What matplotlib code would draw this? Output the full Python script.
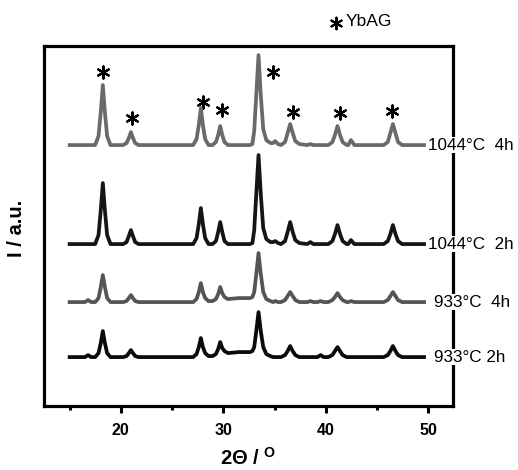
import matplotlib
matplotlib.use('Agg')
import matplotlib.pyplot as plt
import numpy as np

plt.rcParams['font.family'] = ['Liberation Sans', 'DejaVu Sans']
plt.rcParams['mathtext.fontset'] = 'custom'
plt.rcParams['mathtext.bf'] = 'Liberation Sans:bold'
plt.rcParams['mathtext.rm'] = 'Liberation Sans'

# 2theta points shared by all patterns
two_theta = [15.0, 16.5, 16.8, 17.1,
             17.49, 17.82, 18.04, 18.24, 18.44, 18.66, 18.99,
             20.23, 20.56, 20.78, 20.98, 21.18, 21.40, 21.73,
             27.06, 27.39, 27.61, 27.81, 28.01, 28.23, 28.56,
             28.95, 29.28, 29.50, 29.70, 29.90, 30.12, 30.45,
             31.5, 32.6, 32.84, 33.02, 33.22, 33.44, 33.66, 33.90, 34.2, 34.6,
             34.85, 35.07, 35.35,
             35.63, 36.03, 36.28, 36.53, 36.78, 37.03, 37.43,
             38.2, 38.5, 38.8, 39.2, 39.5, 39.8,
             40.25, 40.65, 40.90, 41.15, 41.40, 41.65, 42.05,
             42.2, 42.46, 42.8,
             45.66, 46.06, 46.31, 46.56, 46.81, 47.06, 47.46,
             49.6]

# intensities above each baseline (a.u.)
i_1044_4h = [0, 0, 0, 0,
             0, 9, 33, 60, 33, 9, 0,
             0, 2, 7, 13, 7, 2, 0,
             0, 6, 20, 37, 20, 6, 0,
             0, 3, 10, 19, 10, 3, 0,
             0, 0, 1, 14, 50, 90, 50, 16, 5, 2,
             2, 4, 1,
             0, 3, 12, 21, 12, 4, 1,
             0, 1, 0, 0, 0, 0,
             0, 3, 10, 19, 10, 3, 0,
             0, 5, 0,
             0, 3, 12, 21, 12, 3, 0,
             0]
i_1044_2h = [0, 0, 0, 0,
             0, 9, 34, 61, 34, 9, 0,
             0, 2, 8, 14, 8, 2, 0,
             0, 6, 20, 36, 20, 6, 0,
             0, 3, 12, 22, 12, 3, 0,
             0, 0, 1, 14, 50, 89, 50, 16, 5, 2,
             2, 3, 1,
             0, 3, 12, 22, 12, 4, 1,
             0, 2, 0, 0, 0, 0,
             0, 3, 10, 19, 10, 3, 0,
             0, 4, 0,
             0, 3, 10, 19, 10, 3, 0,
             0]
i_933_4h = [0, 0, 2, 0,
            0, 4, 15, 27, 15, 4, 0,
            0, 1, 4, 7, 4, 1, 0,
            0, 3, 10, 19, 10, 4, 1,
            1, 3, 8, 15, 9, 5, 3,
            4, 4, 5, 10, 28, 49, 28, 10, 3, 1,
            0, 1, 0,
            0, 2, 6, 10, 6, 2, 0,
            0, 1, 0, 0, 1, 0,
            0, 2, 5, 9, 5, 2, 0,
            0, 1, 0,
            0, 2, 6, 10, 6, 2, 0,
            0]
i_933_2h = [0, 0, 2, 0,
            0, 4, 14, 26, 14, 4, 0,
            0, 1, 4, 7, 4, 1, 0,
            0, 3, 10, 19, 10, 4, 1,
            1, 3, 8, 15, 9, 6, 4,
            5, 5, 6, 10, 26, 45, 26, 10, 3, 1,
            0, 0, 0,
            0, 2, 6, 11, 6, 2, 0,
            0, 0, 0, 0, 2, 0,
            0, 2, 6, 10, 6, 2, 0,
            0, 0, 0,
            0, 2, 6, 11, 6, 2, 0,
            0]

patterns = [i_1044_4h, i_1044_2h, i_933_4h, i_933_2h]
offsets = [261, 162, 104, 49]
labels = ['1044°C  4h', '1044°C  2h', '933°C  4h', '933°C 2h']
label_x = [50.0, 50.0, 50.6, 50.6]
colors = ['#6a6a6a', '#151515', '#555555', '#0a0a0a']

# YbAG reflections marked with asterisks
star_x = [18.24, 21.07, 28.0, 29.86, 34.84, 36.76, 41.42, 46.46]
star_y = [334, 288, 304, 296, 334, 294, 293, 295]

fig = plt.figure(figsize=(5.18, 4.70), dpi=100)
ax = fig.add_axes([0.085, 0.136, 0.789, 0.766])

for y, off, c in zip(patterns, offsets, colors):
    ax.plot(two_theta, np.array(y) + off, color=c, lw=2.7, solid_joinstyle='round')

for lab, lx, off in zip(labels, label_x, offsets):
    ax.text(lx, off, lab, fontsize=12.3, ha='left', va='center', clip_on=False,
            bbox=dict(facecolor='white', edgecolor='none', pad=0.5), zorder=5)

ax.scatter(star_x, star_y, marker=(6, 2, 0), s=75, color='black', linewidths=1.6)

# legend at top
ax.scatter([336 / 518], [1 - 23 / 470], marker=(6, 2, 0), s=70, color='black',
           linewidths=1.5, transform=fig.transFigure, clip_on=False)
fig.text(346 / 518, 1 - 22 / 470, 'YbAG', fontsize=12.5, ha='left', va='center')

ax.set_xlim(12.5, 52.4)
ax.set_ylim(0, 360)
ax.set_yticks([])
ax.set_xticks([20, 30, 40, 50])
ax.set_xticks([15, 25, 35, 45], minor=True)
ax.tick_params(axis='x', which='major', length=5, width=2.2, labelsize=11.5, pad=7)
ax.tick_params(axis='x', which='minor', length=3, width=2.2)
for lbl in ax.get_xticklabels():
    lbl.set_fontweight('bold')
for sp in ax.spines.values():
    sp.set_linewidth(2.3)

ax.set_xlabel(r'2Θ / $^{\mathbf{O}}$', fontsize=14.5, fontweight='bold', va='center')
ax.xaxis.set_label_coords(0.5, -0.145)
fig.text(17 / 518, 1 - 228 / 470, 'I / a.u.', fontsize=14.5, fontweight='bold',
         rotation=90, ha='center', va='center')

fig.savefig('out.png', dpi=100)
